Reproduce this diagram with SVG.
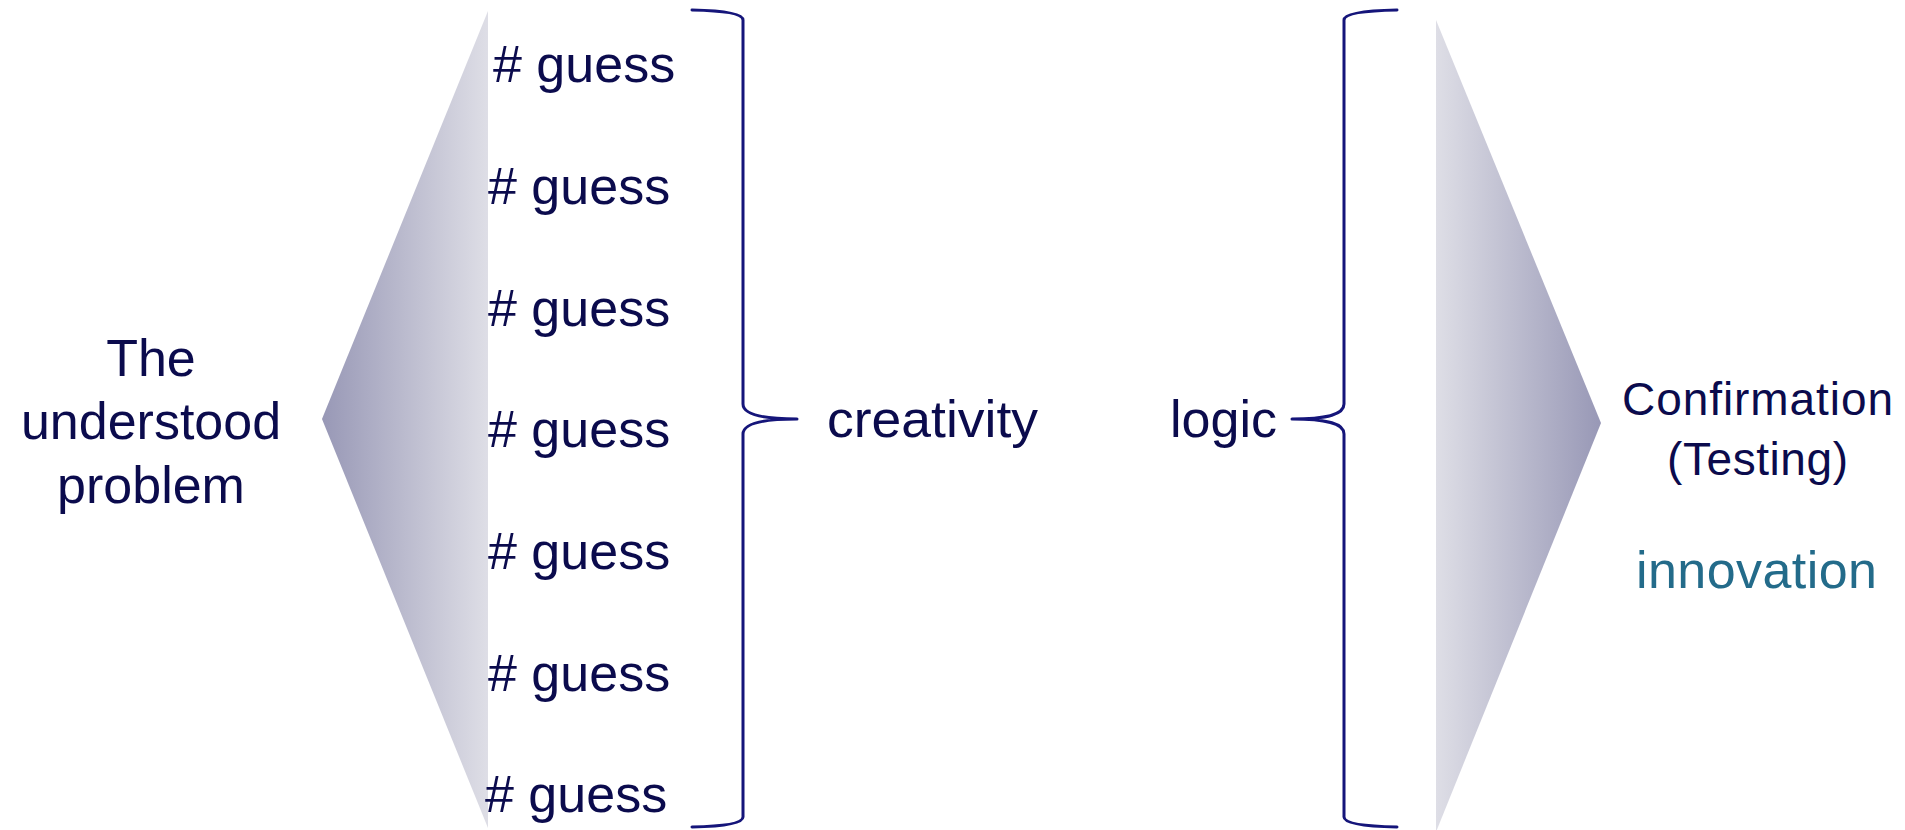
<svg xmlns="http://www.w3.org/2000/svg" width="1905" height="830" viewBox="0 0 1905 830">
<style>
  .t { font-family: "Liberation Sans", Arial, sans-serif; font-size: 52px; fill: #0b0b4d; }
  .r { font-family: "Liberation Sans", Arial, sans-serif; font-size: 46px; fill: #0b0b4d; }
  .inv { font-size: 52px; fill: #236b8a; }
  .brace { fill: none; stroke: #15157a; stroke-width: 3; stroke-linejoin: round; stroke-linecap: round; }
</style>
<defs>
  <linearGradient id="gl" x1="322" y1="0" x2="488" y2="0" gradientUnits="userSpaceOnUse">
    <stop offset="0" stop-color="#9898b6"/>
    <stop offset="1" stop-color="#dedee6"/>
  </linearGradient>
  <linearGradient id="gr" x1="1436" y1="0" x2="1601" y2="0" gradientUnits="userSpaceOnUse">
    <stop offset="0" stop-color="#dedee6"/>
    <stop offset="1" stop-color="#9898b6"/>
  </linearGradient>
</defs>
<rect width="1905" height="830" fill="#ffffff"/>

<g id="left-funnel">
  <polygon points="322,419 488,11 488,828" fill="url(#gl)"/>
</g>
<g id="right-funnel">
  <polygon points="1436,20 1601,423 1436,832" fill="url(#gr)"/>
</g>

<g id="problem">
  <text class="t" text-anchor="middle" x="151" y="376">The</text>
  <text class="t" text-anchor="middle" x="151" y="439">understood</text>
  <text class="t" text-anchor="middle" x="151" y="503">problem</text>
</g>

<g id="guesses">
  <text class="t" x="493" y="82">#&#160;guess</text>
  <text class="t" x="488" y="204">#&#160;guess</text>
  <text class="t" x="488" y="326">#&#160;guess</text>
  <text class="t" x="488" y="447">#&#160;guess</text>
  <text class="t" x="488" y="569">#&#160;guess</text>
  <text class="t" x="488" y="691">#&#160;guess</text>
  <text class="t" x="485" y="812">#&#160;guess</text>
</g>

<g id="creativity">
  <text class="t" x="827" y="437" textLength="211" lengthAdjust="spacingAndGlyphs">creativity</text>
</g>
<g id="logic">
  <text class="t" x="1170" y="437" textLength="107" lengthAdjust="spacingAndGlyphs">logic</text>
</g>

<g id="confirmation">
  <text class="r" x="1622" y="415" textLength="271" lengthAdjust="spacing">Confirmation</text>
  <text class="r" x="1667" y="475" textLength="181" lengthAdjust="spacing">(Testing)</text>
  <text class="r inv" x="1636" y="588" textLength="241" lengthAdjust="spacing">innovation</text>
</g>

<g id="connectors">
  <path class="brace" d="M692,10 Q743,11 743,20 L743,404 C743,414 760,419 797,419 C760,419 743,424 743,434 L743,817 Q743,826 692,827"/>
  <path class="brace" d="M1397,10 Q1344,11 1344,20 L1344,404 C1344,414 1329,419 1292,419 C1329,419 1344,424 1344,434 L1344,817 Q1344,826 1397,827"/>
</g>
</svg>
